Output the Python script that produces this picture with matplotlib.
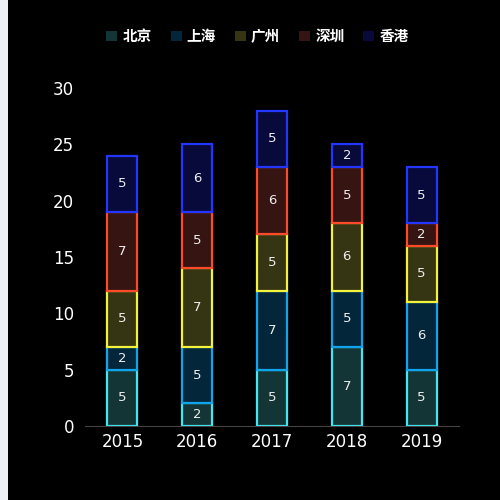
import matplotlib
matplotlib.use("Agg")
import matplotlib.pyplot as plt
import numpy as np
from matplotlib.patches import Rectangle, Patch

plt.rcParams['font.family'] = ['Noto Sans CJK SC', 'DejaVu Sans']

years = ['2015', '2016', '2017', '2018', '2019']
series_names = ['北京', '上海', '广州', '深圳', '香港']
beijing = [5, 2, 5, 7, 5]
shanghai = [2, 5, 7, 5, 6]
guangzhou = [5, 7, 5, 6, 5]
shenzhen = [7, 5, 6, 5, 2]
hongkong = [5, 6, 5, 2, 5]
series = [beijing, shanghai, guangzhou, shenzhen, hongkong]

fills = ['#143535', '#03263b', '#353514', '#351412', '#070a3a']
edges = ['#44e6f4', '#12a4ea', '#f2f23a', '#ff4a2a', '#2236ff']

fig = plt.figure(figsize=(5, 5), dpi=100, facecolor='black')
fig.patches.append(Rectangle((0, 0), 8/500, 1, transform=fig.transFigure,
                             facecolor='#eef0f6', edgecolor='none', zorder=0))
ax = fig.add_axes([85/500, 74/500, 374/500, 338/500])
ax.set_facecolor('black')

x = np.arange(len(years))
bottom = np.zeros(len(years))
for vals, fc, ec in zip(series, fills, edges):
    v = np.array(vals, dtype=float)
    ax.bar(x, v, bottom=bottom, width=0.4, color=fc, edgecolor=ec, linewidth=1.6)
    for xi, b, val in zip(x, bottom, v):
        ax.text(xi, b + val / 2, f'{int(val)}', ha='center', va='center',
                color='#eeeeee', fontsize=9.5, family='DejaVu Sans')
    bottom += v

ax.set_xlim(-0.5, len(years) - 0.5)
ax.set_ylim(0, 30)
ax.set_yticks([0, 5, 10, 15, 20, 25, 30])
ax.set_xticks(x)
ax.set_xticklabels(years)
ax.tick_params(axis='both', colors='white', labelsize=12, length=0)
ax.tick_params(axis='y', pad=8)
ax.tick_params(axis='x', pad=5)
for lab in ax.get_xticklabels() + ax.get_yticklabels():
    lab.set_color('white')
    lab.set_family('DejaVu Sans')
for s in ['top', 'right', 'left']:
    ax.spines[s].set_visible(False)
ax.spines['bottom'].set_color('#444444')

handles = [Patch(facecolor=fc, edgecolor='none') for fc in fills]
leg = fig.legend(handles, series_names, loc='center', bbox_to_anchor=(0.515, 1 - 36/500),
                 ncol=5, frameon=False, handlelength=0.75, handleheight=0.75,
                 handletextpad=0.35, columnspacing=1.3, prop={'size': 10.5, 'weight': 'bold'})
for t in leg.get_texts():
    t.set_color('white')

fig.savefig('out.png', dpi=100, facecolor='black')
